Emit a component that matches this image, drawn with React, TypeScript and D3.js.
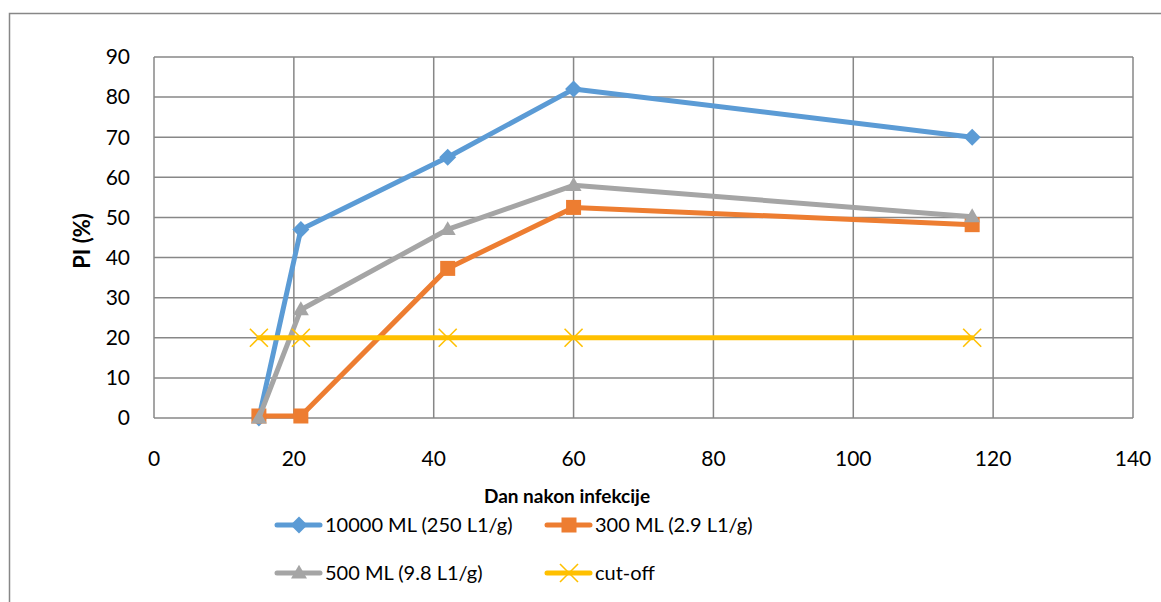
import React from "react";
import * as d3 from "d3";

const days = [15, 21, 42, 60, 117];
const blueVals = [0, 47, 65, 82, 70];
const orangeVals = [0.5, 0.5, 37.3, 52.5, 48.2];
const grayVals = [0, 27, 47, 58, 50.2];
const cutoffVals = [20, 20, 20, 20, 20];
const seriesNames = ["10000 ML (250 L1/g)", "300 ML (2.9 L1/g)", "500 ML (9.8 L1/g)", "cut-off"];
const seriesColors = ["#5B9BD5", "#ED7D31", "#A5A5A5", "#FFC000"];
const seriesMarkers = ["diamond", "square", "triangle", "x"];
const xTicks = [0, 20, 40, 60, 80, 100, 120, 140];
const yTicks = [0, 10, 20, 30, 40, 50, 60, 70, 80, 90];

const W = 1161;
const H = 602;
const FONT = "Lato, 'Open Sans', sans-serif";

function Marker({ type, x, y, color }: { type: string; x: number; y: number; color: string }) {
  if (type === "diamond") {
    const r = 8.5;
    return <path d={`M${x},${y - r}L${x + r},${y}L${x},${y + r}L${x - r},${y}Z`} fill={color} />;
  }
  if (type === "square") {
    const s = 15;
    return <rect x={x - s / 2} y={y - s / 2} width={s} height={s} fill={color} />;
  }
  if (type === "triangle") {
    const s = 16;
    const h = s * 0.87;
    return <path d={`M${x},${y - h * 0.6}L${x + s / 2},${y + h * 0.4}L${x - s / 2},${y + h * 0.4}Z`} fill={color} />;
  }
  const r = 9;
  return (
    <g stroke={color} strokeWidth={1.6}>
      <line x1={x - r} y1={y - r} x2={x + r} y2={y + r} />
      <line x1={x - r} y1={y + r} x2={x + r} y2={y - r} />
    </g>
  );
}

export default function App() {
  const x = d3.scaleLinear().domain([0, 140]).range([154, 1133]);
  const y = d3.scaleLinear().domain([0, 90]).range([418, 57]);
  const allVals = [blueVals, orangeVals, grayVals, cutoffVals];
  const line = d3
    .line<[number, number]>()
    .x((d) => x(d[0]))
    .y((d) => y(d[1]));
  const order = [0, 1, 2, 3];
  const legendItems = [
    { i: 0, lx: 277, ty: 525 },
    { i: 1, lx: 547, ty: 525 },
    { i: 2, lx: 277, ty: 573 },
    { i: 3, lx: 547, ty: 573 },
  ];
  return (
    <svg width={W} height={H} style={{ position: "absolute", left: 0, top: 0 }} fontFamily={FONT}>
      <rect x={0} y={0} width={W} height={H} fill="#fff" />
      <path d={`M9.5,${H + 2}V13.5H${W + 2}`} fill="none" stroke="#878787" strokeWidth={1.5} />
      {yTicks.map((t) => (
        <line key={"gy" + t} x1={x(0)} x2={x(140)} y1={y(t)} y2={y(t)} stroke="#878787" strokeWidth={1.5} />
      ))}
      {xTicks.map((t) => (
        <line key={"gx" + t} x1={x(t)} x2={x(t)} y1={y(0)} y2={y(90)} stroke="#878787" strokeWidth={1.5} />
      ))}
      {yTicks.map((t) => (
        <text key={"ty" + t} x={130} y={y(t)} dy="0.35em" textAnchor="end" fontSize={21} fill="#000">
          {t}
        </text>
      ))}
      {xTicks.map((t) => (
        <text key={"tx" + t} x={x(t)} y={459} dy="0.35em" textAnchor="middle" fontSize={21} fill="#000">
          {t}
        </text>
      ))}
      <text x={567} y={496} dy="0.35em" textAnchor="middle" fontSize={19} fontWeight="bold" fill="#000">
        Dan nakon infekcije
      </text>
      <text
        transform={`translate(82,241) rotate(-90)`}
        textAnchor="middle"
        dy="0.35em"
        fontSize={22}
        fontWeight="bold"
        fill="#000"
      >
        PI (%)
      </text>
      {order.map((si) => {
        const pts = days.map((d, k) => [d, allVals[si][k]] as [number, number]);
        return (
          <g key={"s" + si}>
            <path d={line(pts) || ""} fill="none" stroke={seriesColors[si]} strokeWidth={5} strokeLinejoin="round" strokeLinecap="round" />
            {pts.map((p, k) => (
              <Marker key={k} type={seriesMarkers[si]} x={x(p[0])} y={y(p[1])} color={seriesColors[si]} />
            ))}
          </g>
        );
      })}
      {legendItems.map(({ i, lx, ty }) => (
        <g key={"lg" + i}>
          <line x1={lx} x2={lx + 43} y1={ty} y2={ty} stroke={seriesColors[i]} strokeWidth={5} strokeLinecap="round" />
          <Marker type={seriesMarkers[i]} x={lx + 22} y={ty} color={seriesColors[i]} />
          <text x={lx + 48} y={ty} dy="0.35em" fontSize={20} fill="#000">
            {seriesNames[i]}
          </text>
        </g>
      ))}
    </svg>
  );
}
